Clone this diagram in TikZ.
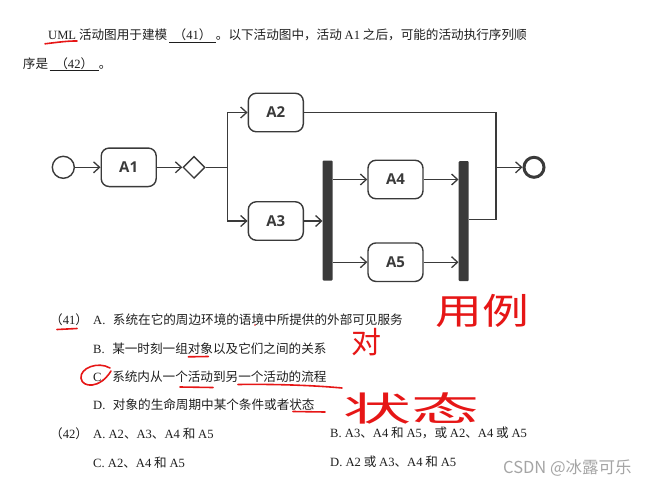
\documentclass[tikz,border=0pt]{standalone}
\usepackage{fontspec}
\setmainfont{Noto Sans CJK SC}
\newfontfamily\tnr{Liberation Serif}
\setsansfont{Open Sans}
\usetikzlibrary{arrows.meta, shapes.geometric, calc}
\definecolor{inkgray}{RGB}{58,58,58}
\definecolor{printblack}{RGB}{30,30,30}
\definecolor{penred}{RGB}{230,22,22}
\definecolor{markgray}{RGB}{165,165,165}
\tikzset{
  action/.style   = {rectangle, rounded corners=8pt, draw=inkgray, line width=1.4pt, minimum width=55pt, minimum height=38.5pt, inner sep=0pt, text=inkgray, font=\sffamily\bfseries\fontsize{15}{15}\selectfont},
  startdot/.style = {circle, draw=inkgray, line width=1.4pt, minimum size=22pt, inner sep=0pt},
  enddot/.style   = {circle, draw=inkgray, line width=3pt, minimum size=20pt, inner sep=0pt},
  choice/.style   = {diamond, draw=inkgray, line width=1.4pt, minimum size=22pt, inner sep=0pt},
  syncbar/.style  = {rectangle, rounded corners=1pt, fill=inkgray, minimum width=10pt, minimum height=120pt, inner sep=0pt},
  flow/.style     = {-{Straight Barb[length=6pt, width=11pt]}, draw=inkgray, line width=1.3pt},
  link/.style     = {draw=inkgray, line width=1.3pt},
  qtext/.style    = {anchor=west, inner sep=0pt, text=printblack, font=\fontsize{12.6}{15}\selectfont},
  pen/.style      = {draw=penred, line width=1.6pt, line cap=round, line join=round},
  hand/.style     = {inner sep=0pt, text=penred},
}
\newcommand{\la}[1]{{\tnr #1}}
\newcommand{\opt}[1]{\la{#1}\hspace{7.5pt}}

\begin{document}
\begin{tikzpicture}[x=1pt, y=-1pt]
    \useasboundingbox (0,0) rectangle (655,487);

    % ── Question stem ───────────────────────────────────────────
    \node[qtext] (stem1) at (48,35.7) {\la{UML} 活动图用于建模\hspace{2pt}\underline{\makebox[46.7pt]{（\la{41}）}}。以下活动图中，活动 \la{A1} 之后，可能的活动执行序列顺};
    \node[qtext] (stem2) at (22.7,64.3) {序是\hspace{1.5pt}\underline{\makebox[49.3pt]{（\la{42}）}}。};

    % ── Activity diagram ────────────────────────────────────────
    \node[startdot] (start) at (63.3,167.3) {};
    \node[action]   (a1)    at (128.7,167.3) {A1};
    \node[choice]   (dec)   at (194,167.3) {};
    \node[action]   (a2)    at (275.8,112.5) {A2};
    \node[action]   (a3)    at (275.8,221) {A3};
    \node[syncbar]  (fork)  at (327.7,220.5) {};
    \node[action]   (a4)    at (395.5,179.5) {A4};
    \node[action]   (a5)    at (395.5,262.2) {A5};
    \node[syncbar]  (join)  at (463.7,221.2) {};
    \node[enddot]   (final) at (534,167.3) {};
    \coordinate (merge) at (496,167.3);

    \draw[flow] (start) -- (a1);
    \draw[flow] (a1) -- (dec);
    \draw[flow] (dec.east) -- ++(21.7,0) |- (a2.west);
    \draw[flow] (dec.east) -- ++(21.7,0) |- (a3.west);
    \draw[flow] (a3.east) -- (a3.east -| fork.west);
    \draw[flow] (fork.east |- a4) -- (a4.west);
    \draw[flow] (fork.east |- a5) -- (a5.west);
    \draw[flow] (a4.east) -- (a4.east -| join.west);
    \draw[flow] (a5.east) -- (a5.east -| join.west);
    \draw[link] (a2.east) -| (merge);
    \draw[link] ([yshift=1.5pt]join.east) -| (merge);
    \draw[flow] (merge) -- (final);

    % ── Choices for (41) ────────────────────────────────────────
    \node[qtext] (n41) at (50,320)   {（\la{41}）};
    \node[qtext] (o41a) at (93,320)   {\opt{A.}系统在它的周边环境的语境中所提供的外部可见服务};
    \node[qtext] (o41b) at (93,348.3) {\opt{B.}某一时刻一组对象以及它们之间的关系};
    \node[qtext] (o41c) at (93,376.7) {\opt{C.}系统内从一个活动到另一个活动的流程};
    \node[qtext] (o41d) at (93,405)   {\opt{D.}对象的生命周期中某个条件或者状态};

    % ── Choices for (42) ────────────────────────────────────────
    \node[qtext] (n42) at (50,433.3)   {（\la{42}）};
    \node[qtext] (o42a) at (93,433.3)  {\la{A. A2}、\la{A3}、\la{A4} 和 \la{A5}};
    \node[qtext] (o42b) at (330,433.3) {\la{B. A3}、\la{A4} 和 \la{A5}，或 \la{A2}、\la{A4} 或 \la{A5}};
    \node[qtext] (o42c) at (93,462.3)  {\la{C. A2}、\la{A4} 和 \la{A5}};
    \node[qtext] (o42d) at (330,461.7) {\la{D. A2} 或 \la{A3}、\la{A4} 和 \la{A5}};

    % ── Red pen marks ───────────────────────────────────────────
    \draw[pen] (45,43.8) .. controls (56,42.5) and (68,40.8) .. (77,41);
    \draw[pen] (57,329.5) -- (77,328.5);
    \fill[penred] (255,325) circle (0.9);
    \draw[pen] (188.3,356.8) -- (208.3,356.5);
    \draw[pen] (110,368) .. controls (98,361) and (80,368) .. (81,378) .. controls (82,388) and (100,389) .. (111,371);
    \draw[pen] (180,387) -- (213,387.5);
    \draw[pen] (238,384.5) .. controls (270,384) and (310,385) .. (342,388);
    \draw[pen] (293,411.5) -- (325,412);
    \node[hand, font=\fontsize{36}{36}\selectfont] (yongli) at (482,311) {\scalebox{1.3}[1]{用例}};
    \node[hand, font=\fontsize{30}{30}\selectfont] (dui) at (366,342) {对};
    \node[hand, font=\fontsize{34}{34}\selectfont] (zhuang) at (411,408) {\scalebox{2}[1]{状态}};

    % ── Watermark ───────────────────────────────────────────────
    \node[anchor=west, inner sep=0pt, text=markgray, font=\fontsize{16.5}{17}\selectfont] (mark) at (503,468) {CSDN @冰露可乐};
\end{tikzpicture}
\end{document}
